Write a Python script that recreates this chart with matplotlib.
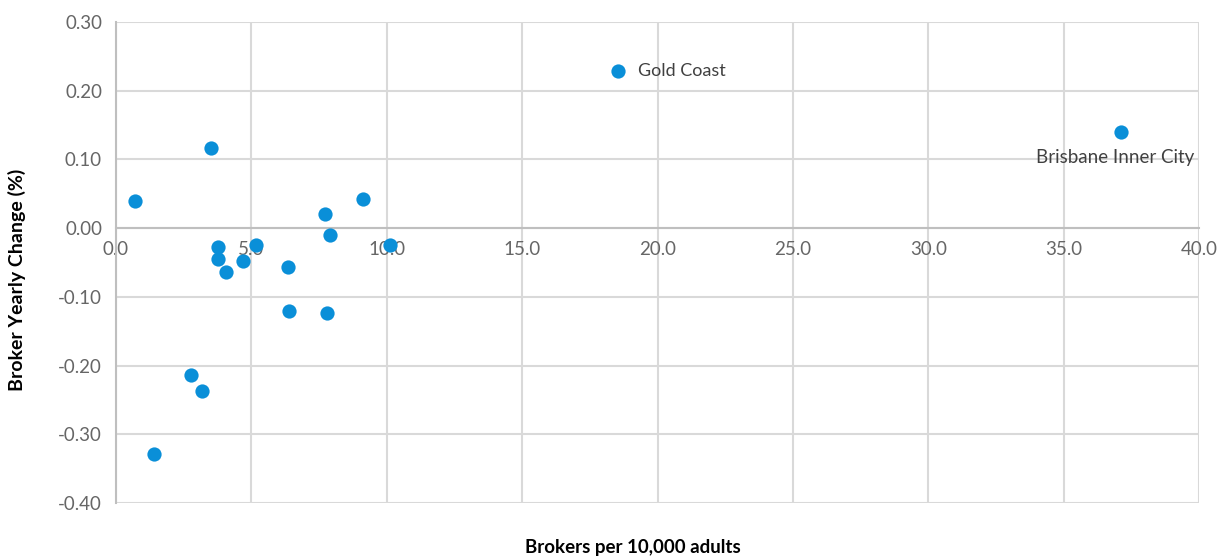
import numpy as np
import matplotlib.pyplot as plt

# Brokers per 10,000 adults vs yearly change in broker numbers, by region
brokers_per_10k = [0.70, 3.51, 3.78, 3.78, 4.05, 4.70, 5.18, 6.35, 6.40, 7.72,
                   7.90, 7.78, 9.11, 10.12, 2.77, 3.16, 1.39, 18.55, 37.10]
yearly_change = [0.039, 0.117, -0.028, -0.045, -0.064, -0.048, -0.025, -0.056, -0.121, 0.021,
                 -0.010, -0.124, 0.042, -0.024, -0.213, -0.237, -0.329, 0.228, 0.140]
point_labels = [""] * 17 + ["Gold Coast", "Brisbane Inner City"]

x_ticks = [0, 5, 10, 15, 20, 25, 30, 35, 40]
y_ticks = [0.30, 0.20, 0.10, 0.00, -0.10, -0.20, -0.30, -0.40]

tick_grey = '#666666'
grid_grey = '#D9D9D9'
dot_blue = '#0A8FD8'

plt.rcParams['font.family'] = ['Lato', 'DejaVu Sans']

fig = plt.figure(figsize=(12.26, 5.59), dpi=100)
ax = fig.add_axes([0.0946, 0.1002, 0.8834, 0.8604])

ax.scatter(brokers_per_10k, yearly_change, s=105, color=dot_blue, zorder=3, linewidths=0)

# labels for the two outlying regions
for x, y, name in zip(brokers_per_10k, yearly_change, point_labels):
    if name == "Gold Coast":
        ax.annotate(name, (x, y), xytext=(14, 0), textcoords='offset points',
                    ha='left', va='center', fontsize=13, color='#404040')
    elif name:
        ax.annotate(name, (x, y), xytext=(-4, -12), textcoords='offset points',
                    ha='center', va='top', fontsize=13.5, color='#404040')

ax.set_xlim(0, 40)
ax.set_ylim(-0.40, 0.30)
ax.set_xticks(x_ticks)
ax.set_xticklabels([f"{v:.1f}" for v in x_ticks])
ax.set_yticks(y_ticks)
ax.set_yticklabels([f"{v:.2f}".replace("-0.00", "0.00") for v in y_ticks])

ax.set_axisbelow(True)
ax.grid(True, color=grid_grey, linewidth=1.5)
ax.tick_params(length=0, labelsize=13.5, labelcolor=tick_grey)
ax.tick_params(axis='x', pad=9)
ax.tick_params(axis='y', pad=10)

# x axis crosses at zero
ax.spines['bottom'].set_position(('data', 0))
ax.spines['bottom'].set_color('#BFBFBF')
ax.spines['bottom'].set_linewidth(1.5)
ax.spines['left'].set_color('#BFBFBF')
ax.spines['left'].set_linewidth(1.5)
ax.spines['top'].set_visible(False)
ax.spines['right'].set_visible(False)

fig.text(0.516, 0.006, 'Brokers per 10,000 adults', ha='center', va='bottom',
         fontsize=13.5, fontweight='bold', color='black')
fig.text(0.014, 0.50, 'Broker Yearly Change (%)', ha='center', va='center',
         rotation=90, fontsize=14, fontweight='bold', color='black')

fig.savefig('out.png', dpi=100)
